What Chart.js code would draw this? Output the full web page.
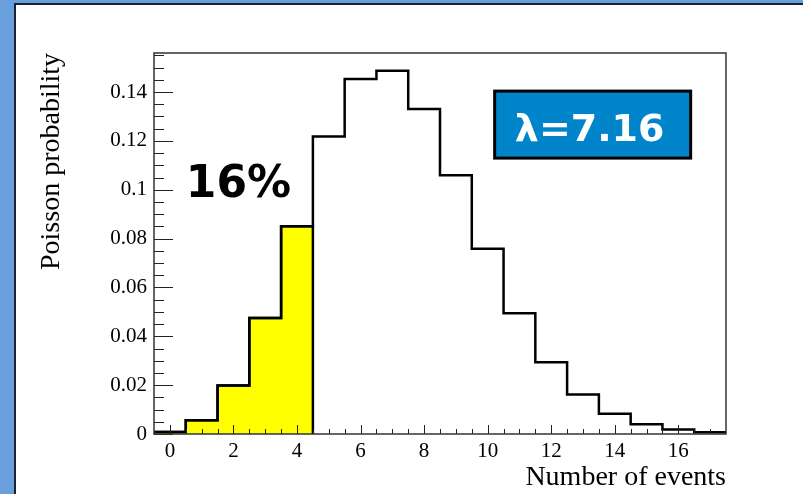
<!DOCTYPE html>
<html>
<head>
<meta charset="utf-8">
<script src="https://cdn.jsdelivr.net/npm/chart.js@4/dist/chart.umd.min.js"></script>
<style>
  html, body { margin: 0; padding: 0; }
  body { width: 803px; height: 494px; background: #6a9fdd; position: relative; overflow: hidden; }
  #panel {
    position: absolute; left: 14px; top: 3px; right: -10px; bottom: -10px;
    background: #fff; border-left: 2px solid #1b2133; border-top: 2px solid #1b2133;
  }
  #chart { position: absolute; left: 0; top: 0; }
</style>
</head>
<body>
<div id="panel"></div>
<canvas id="chart" width="803" height="494"></canvas>
<script>
// number of events k and Poisson probability (lambda = 7.16)
const bins   = [0, 1, 2, 3, 4, 5, 6, 7, 8, 9, 10, 11, 12, 13, 14, 15, 16, 17];
const probs  = [0.0008, 0.0056, 0.0199, 0.0475, 0.0851, 0.1218, 0.1454, 0.1487, 0.1331,
                0.1059, 0.0758, 0.0494, 0.0294, 0.0162, 0.0083, 0.0040, 0.0018, 0.0007];
const shadedBins = 5;            // k = 0..4 are filled yellow
const xTicks = [0, 2, 4, 6, 8, 10, 12, 14, 16];
const yTicks = [0, 0.02, 0.04, 0.06, 0.08, 0.1, 0.12, 0.14];
const xMin = -0.5, xMax = 17.5, yMax = 0.156;

const shareLabel  = '16%';
const lambdaLabel = 'λ=7.16';

// left-edge points for a stepped outline
const outline = bins.map((k, i) => ({ x: k - 0.5, y: probs[i] }));
outline.push({ x: bins[bins.length - 1] + 0.5, y: probs[probs.length - 1] });

const shaded = bins.slice(0, shadedBins).map((k, i) => ({ x: k - 0.5, y: probs[i] }));
shaded.push({ x: bins[shadedBins - 1] + 0.5, y: 0 });

const serif = '"Liberation Serif", "Times New Roman", serif';
const sans  = '"DejaVu Sans", Verdana, sans-serif';

const rootAxes = {
  id: 'rootAxes',
  afterDraw(chart) {
    const { ctx, chartArea: a, scales: { x, y } } = chart;
    ctx.save();

    // ticks pointing inward
    ctx.strokeStyle = '#222';
    ctx.lineWidth = 1;
    ctx.beginPath();
    for (let v = 0; v <= yMax + 1e-9; v += 0.005) {
      const py = Math.round(y.getPixelForValue(v)) + 0.5;
      const major = Math.abs(v / 0.02 - Math.round(v / 0.02)) < 1e-6;
      ctx.moveTo(a.left, py);
      ctx.lineTo(a.left + (major ? 19 : 10), py);
    }
    for (let v = xMin + 0.5; v < xMax; v += 0.5) {
      const px = Math.round(x.getPixelForValue(v)) + 0.5;
      const major = xTicks.includes(v);
      ctx.moveTo(px, a.bottom);
      ctx.lineTo(px, a.bottom - (major ? 9 : 5));
    }
    ctx.stroke();

    // frame
    ctx.strokeStyle = '#333';
    ctx.lineWidth = 1.5;
    ctx.strokeRect(a.left, a.top, a.right - a.left, a.bottom - a.top);

    // share annotation
    ctx.fillStyle = '#000';
    ctx.font = 'bold 44px ' + sans;
    ctx.textAlign = 'left';
    ctx.textBaseline = 'alphabetic';
    ctx.fillText(shareLabel, x.getPixelForValue(0.5), y.getPixelForValue(0.097));

    // lambda box
    const bx = x.getPixelForValue(10.22), by = y.getPixelForValue(0.1404);
    const bw = 196, bh = 67;
    ctx.fillStyle = '#0084ca';
    ctx.fillRect(bx, by, bw, bh);
    ctx.strokeStyle = '#000';
    ctx.lineWidth = 3;
    ctx.strokeRect(bx, by, bw, bh);
    ctx.fillStyle = '#fff';
    ctx.font = 'bold 38px ' + sans;
    ctx.textAlign = 'center';
    ctx.fillText(lambdaLabel, bx + bw / 2 - 3, by + 50);

    ctx.restore();
  }
};

new Chart(document.getElementById('chart'), {
  type: 'line',
  data: {
    datasets: [
      {
        data: outline,
        stepped: true,
        borderColor: '#000',
        borderWidth: 2.5,
        pointRadius: 0,
        fill: false,
        order: 0
      },
      {
        data: shaded,
        stepped: true,
        borderColor: '#000',
        borderWidth: 2.5,
        backgroundColor: '#ffff00',
        pointRadius: 0,
        fill: 'origin',
        order: 1
      }
    ]
  },
  options: {
    responsive: false,
    animation: false,
    layout: { padding: { left: 0, top: 53, right: 77, bottom: 0 } },
    plugins: { legend: { display: false }, tooltip: { enabled: false } },
    scales: {
      x: {
        type: 'linear',
        min: xMin,
        max: xMax,
        grid: { display: false, drawTicks: false },
        border: { display: false },
        afterBuildTicks: s => { s.ticks = xTicks.map(v => ({ value: v })); },
        afterFit: s => { s.height = 60; },
        ticks: {
          padding: 5,
          maxRotation: 0,
          autoSkip: false,
          color: '#000',
          font: { family: serif, size: 21 }
        },
        title: {
          display: true,
          text: 'Number of events',
          align: 'end',
          color: '#000',
          font: { family: serif, size: 28 },
          padding: { top: 0, bottom: 0 }
        }
      },
      y: {
        type: 'linear',
        min: 0,
        max: yMax,
        grid: { display: false, drawTicks: false },
        border: { display: false },
        afterBuildTicks: s => { s.ticks = yTicks.map(v => ({ value: v })); },
        afterFit: s => { s.width = 154; },
        ticks: {
          padding: 7,
          color: '#000',
          font: { family: serif, size: 21 },
          callback: v => String(+v.toFixed(3))
        },
        title: {
          display: true,
          text: 'Poisson probability',
          align: 'end',
          color: '#000',
          font: { family: serif, size: 28 },
          padding: { top: 35, bottom: 0 }
        }
      }
    }
  },
  plugins: [rootAxes]
});
</script>
</body>
</html>
